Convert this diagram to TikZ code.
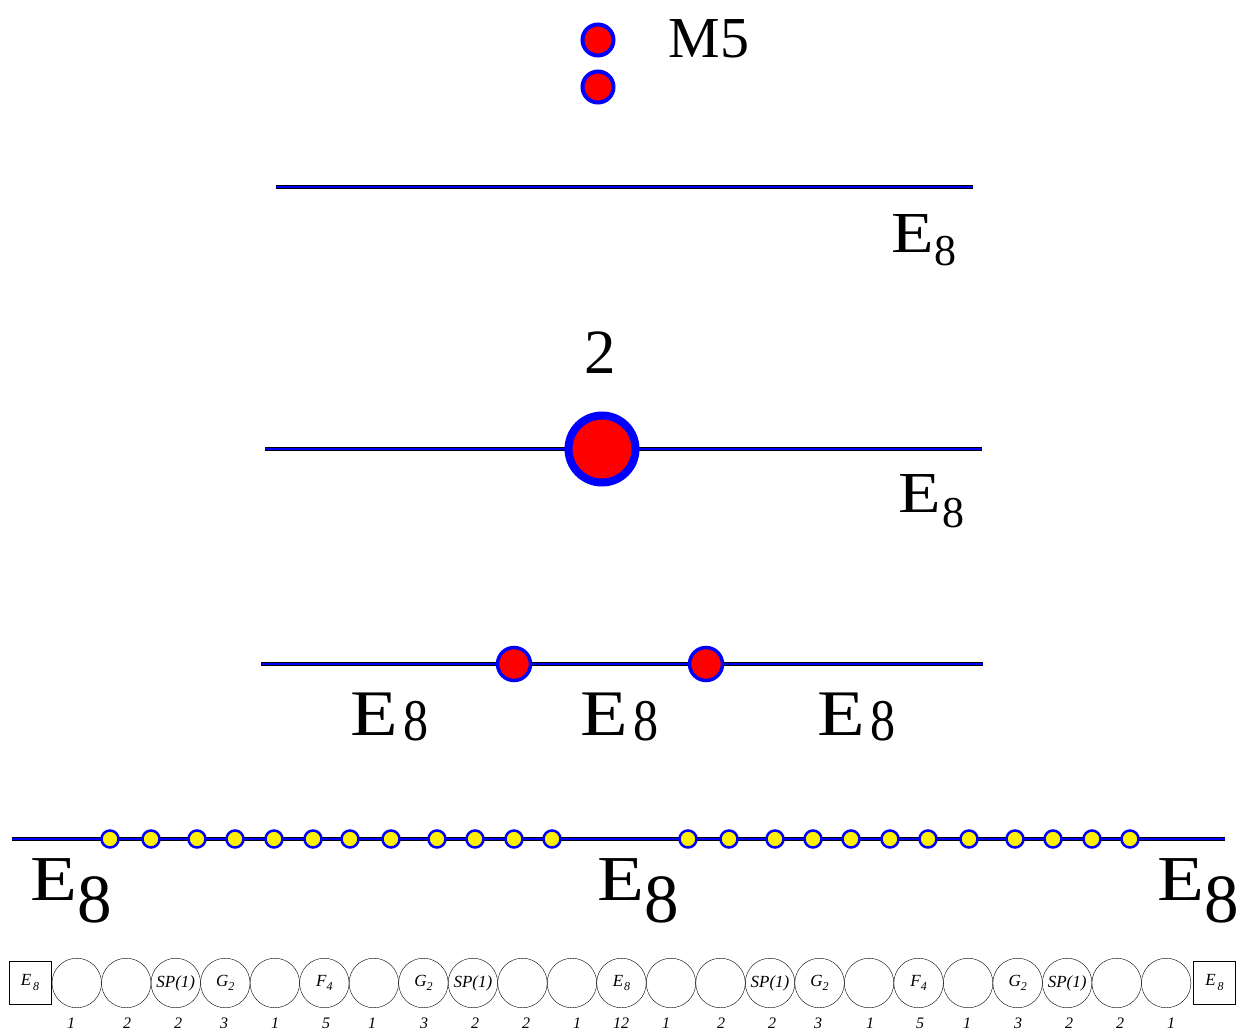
\documentclass[tikz,border=0pt]{standalone}
\usepackage{fontspec}
\setmainfont{Liberation Serif}
\usetikzlibrary{positioning}
% E with a lowered 8: [8 width]{E size}{8 size}{gap}{drop}
\newcommand{\Eeight}[5][1]{\fontsize{#2}{#2}\selectfont \scalebox{1.2}[1]{E}\hspace{#4pt}\raisebox{-#5pt}{\fontsize{#3}{#3}\selectfont \scalebox{#1}[1]{8}}}
\newcommand{\lowsub}[1]{\raisebox{-0.6ex}{\fontsize{12}{12}\selectfont #1}}
\tikzset{
  brane/.style={
    draw=black,
    line width=1pt,
    double=blue,
    double distance=2pt
  },
  mfive/.style={
    shape=circle,
    inner sep=0,
    draw=blue,
    fill=red,
    line width=4pt,
    minimum size=31pt
  },
  bigmfive/.style={
    mfive,
    line width=8pt,
    minimum size=67pt
  },
  midmfive/.style={
    mfive,
    line width=3.5pt,
    minimum size=33pt
  },
  smallpt/.style={
    mfive,
    fill=yellow,
    line width=2.5pt,
    minimum size=17pt
  },
  quiv/.style={
    shape=circle,
    draw,
    thin,
    inner sep=0,
    minimum size=49.5pt,
    font=\fontsize{17}{17}\selectfont\itshape
  },
  flav/.style={
    shape=rectangle,
    draw,
    thin,
    inner sep=0,
    minimum width=42pt,
    minimum height=43pt,
    font=\fontsize{17}{17}\selectfont\itshape
  },
  rank/.style={
    font=\fontsize{16}{16}\selectfont\itshape
  }
}

\begin{document}
\begin{tikzpicture}[x=1pt,y=-1pt]
  \useasboundingbox (0,0) rectangle (1243,1036);

  % two M5 branes
  \node[mfive] (m1) at (598,40) {};
  \node[mfive] (m2) at (598,87) {};
  \node[anchor=base west, font=\fontsize{58}{58}\selectfont] (mlab) at (665,57) {M5};

  % single E8 wall
  \coordinate (a1) at (276,187);
  \coordinate (a2) at (973,187);
  \draw[brane] (a1) -- (a2);
  \node[anchor=base west] (alab) at (888,252) {\Eeight{58}{44}{0}{13}};

  % coincident M5s on the wall
  \coordinate (b1) at (265,449);
  \coordinate (b2) at (982,449);
  \draw[brane] (b1) -- (b2);
  \node[bigmfive] (bm) at (602,449) {};
  \node[anchor=base, font=\fontsize{63}{63}\selectfont] (blab) at (600,373) {2};
  \node[anchor=base west] (bE) at (895,512) {\Eeight{58}{44}{1}{15}};

  % separated M5s
  \coordinate (c1) at (261,664);
  \coordinate (c2) at (983,664);
  \draw[brane] (c1) -- (c2);
  \node[midmfive] (cm1) at (514,664) {};
  \node[midmfive] (cm2) at (706,664) {};
  \node[anchor=base west] (cE1) at (347,735) {\Eeight[0.85]{65}{59}{5}{5}};
  \node[anchor=base west] (cE2) at (577,735) {\Eeight[0.85]{65}{59}{5}{5}};
  \node[anchor=base west] (cE3) at (814,735) {\Eeight[0.85]{65}{59}{5}{5}};

  % many small instantons
  \coordinate (d1) at (12,839);
  \coordinate (d2) at (1225,839);
  \draw[brane] (d1) -- (d2);
  \foreach \x [count=\i] in {110,151,197,235,274,313,350,391,437,475,514,552,
                             688,729,775,813,851,890,928,969,1015,1053,1092,1130}
    \node[smallpt] (s\i) at (\x,839) {};
  \node[anchor=base west] (dE1) at (27,900) {\Eeight{64}{69}{0}{22}};
  \node[anchor=base west] (dE2) at (594,900) {\Eeight{64}{69}{0}{22}};
  \node[anchor=base west] (dE3) at (1154,900) {\Eeight{64}{69}{0}{22}};

  % quiver
  \node[flav] (fl) at (30,982.5) {E\hspace{2pt}\lowsub{8}};
  \node[flav] (fr) at (1214.5,982.5) {E\hspace{2pt}\lowsub{8}};
  \foreach \lab [count=\i] in {{},{},SP(1),G\lowsub{2},{},F\lowsub{4},{},G\lowsub{2},SP(1),{},{},
                               E\hspace{1pt}\lowsub{8},{},{},SP(1),G\lowsub{2},{},F\lowsub{4},{},G\lowsub{2},SP(1),{},{}}
    \node[quiv] (q\i) at (27.23+49.52*\i,983) {\lab};
  \foreach \x/\n [count=\i] in {71/1,127/2,178/2,224/3,275/1,326/5,372/1,424/3,475/2,526/2,577/1,621/12,
                                666/1,721/2,772/2,818/3,870/1,920/5,967/1,1018/3,1069/2,1120/2,1171/1}
    \node[rank] (r\i) at (\x,1023) {\n};
\end{tikzpicture}
\end{document}
